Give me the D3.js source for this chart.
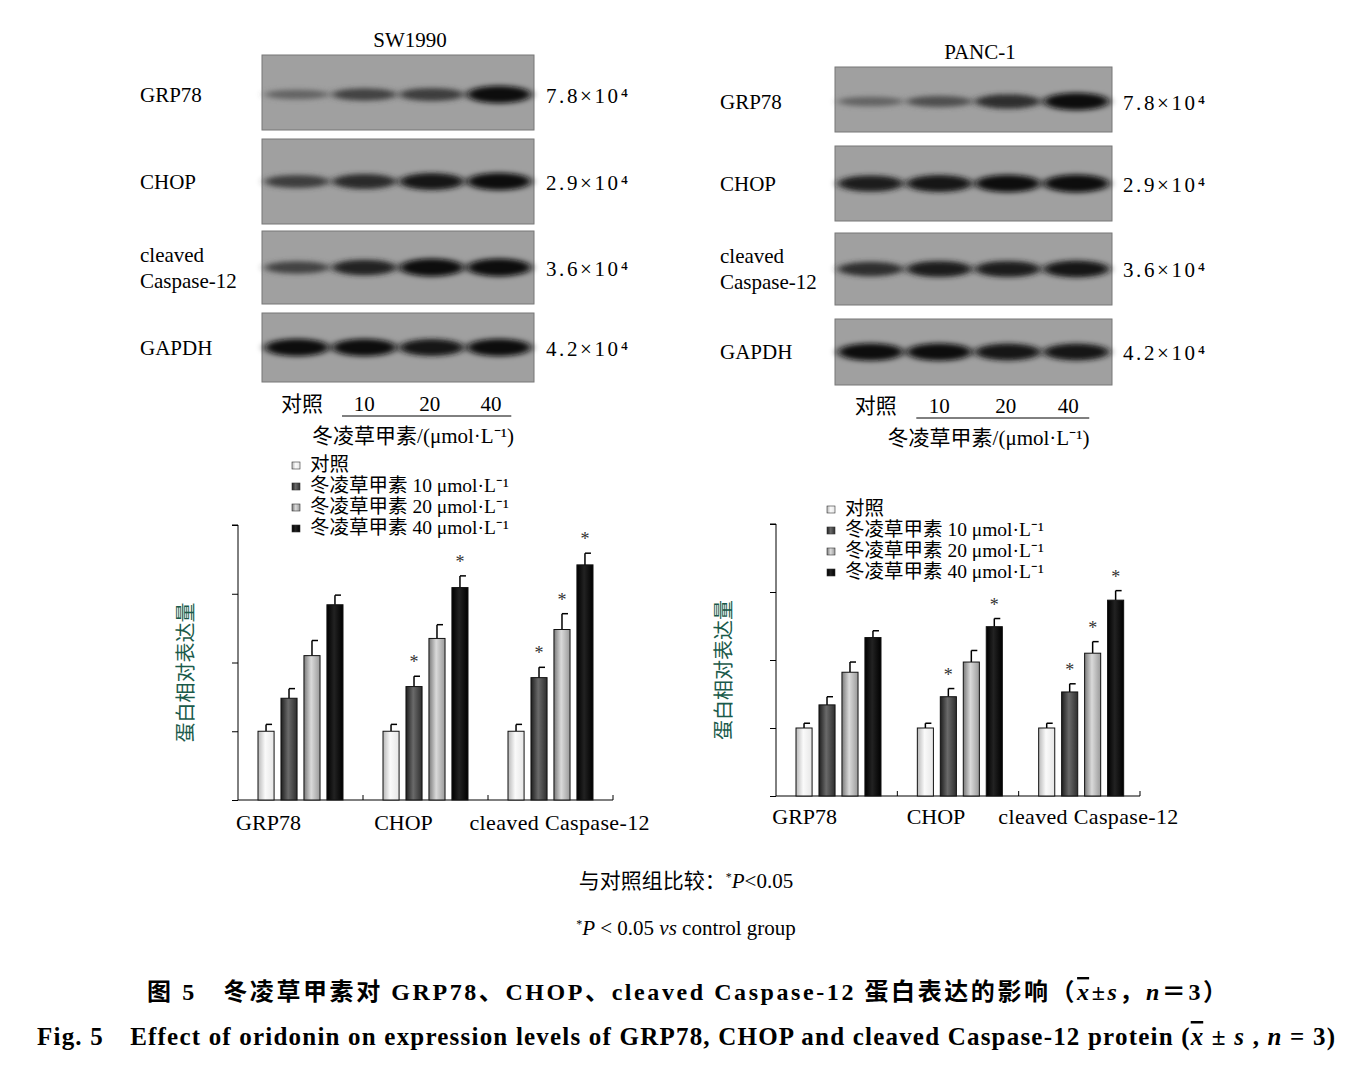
<!DOCTYPE html><html><head><meta charset="utf-8">
<script src="https://cdn.jsdelivr.net/npm/d3@7/dist/d3.min.js"></script>
<style>body{margin:0;background:#fff}svg{font-family:"Liberation Serif","Noto Sans CJK SC",serif}</style></head><body>
<svg id="c" width="1366" height="1078"></svg>
<script>
const proteins=["GRP78","CHOP","cleaved Caspase-12"];
const groups=["对照","冬凌草甲素 10 μmol·L⁻¹","冬凌草甲素 20 μmol·L⁻¹","冬凌草甲素 40 μmol·L⁻¹"];
const doseLabels=["对照","10","20","40"];
const blotRows=["GRP78","CHOP","cleaved\nCaspase-12","GAPDH"];
const mwLabels=["7.8×10⁴","2.9×10⁴","3.6×10⁴","4.2×10⁴"];
const bandSW=[[0.3,0.55,0.6,0.95],[0.6,0.75,0.9,0.95],[0.55,0.8,1,1],[0.95,0.95,0.9,0.95]];
const bandPA=[[0.3,0.45,0.7,0.95],[0.85,0.9,0.95,1],[0.7,0.85,0.85,0.9],[0.95,0.95,0.9,0.9]];
const swMean=[[1.0,1.48,2.1,2.84],[1.0,1.65,2.35,3.09],[1.0,1.78,2.48,3.42]];
const swErr=[[0.1,0.14,0.22,0.14],[0.1,0.15,0.2,0.17],[0.1,0.15,0.23,0.17]];
const swStar=[[0,0,0,0],[0,1,0,1],[0,1,1,1]];
const paMean=[[1.0,1.34,1.82,2.33],[1.0,1.46,1.97,2.49],[1.0,1.53,2.1,2.88]];
const paErr=[[0.07,0.12,0.15,0.1],[0.07,0.12,0.17,0.12],[0.07,0.12,0.17,0.14]];
const paStar=[[0,0,0,0],[0,1,0,1],[0,1,1,1]];

const svg=d3.select("#c");
const defs=svg.append("defs");
defs.append("filter").attr("id","blur").attr("x","-50%").attr("y","-100%").attr("width","200%").attr("height","300%")
 .append("feGaussianBlur").attr("stdDeviation","4 2.5");
const fills=[["#e6e6e6","#fafafa","#b8b8b8"],["#2e2e2e","#6a6a6a","#1e1e1e"],["#9a9a9a","#dadada","#7a7a7a"],["#000","#222","#000"]];
fills.forEach((f,i)=>{const g=defs.append("linearGradient").attr("id","g"+i);
 g.append("stop").attr("offset","0%").attr("stop-color",f[2]);
 g.append("stop").attr("offset","45%").attr("stop-color",f[1]);
 g.append("stop").attr("offset","100%").attr("stop-color",f[0]);});
const bandColor=d3.interpolateRgb("#8a8a8a","#080808");

function blot(title,titleX,x0,x1,rows,bands,labelX,mwX,doseY){
 svg.append("text").attr("x",titleX).attr("y",rows[0][0]-8).attr("text-anchor","middle").attr("font-size",21).text(title);
 const lx=d3.scaleBand().domain(d3.range(4)).range([x0,x1]).padding(0.04);
 rows.forEach((r,i)=>{
  svg.append("rect").attr("x",x0).attr("y",r[0]).attr("width",x1-x0).attr("height",r[1]-r[0]).attr("fill","#a0a0a0").attr("stroke","#777");
  const cy=(r[0]+r[1])/2+(i==0?2:0);
  bands[i].forEach((v,j)=>{
   svg.append("ellipse").attr("cx",lx(j)+lx.bandwidth()/2).attr("cy",cy).attr("rx",lx.bandwidth()/2).attr("ry",3+v*6)
    .attr("fill",bandColor(v)).attr("filter","url(#blur)");
  });
  const lab=blotRows[i].split("\n");
  lab.forEach((t,k)=>svg.append("text").attr("x",labelX).attr("y",cy+7+(lab.length>1?(k-0.5)*26:0)).attr("font-size",21).text(t));
  svg.append("text").attr("x",mwX).attr("y",cy+8).attr("font-size",21).attr("textLength",82).text(mwLabels[i]);
 });
 doseLabels.forEach((d,j)=>svg.append("text").attr("x",lx(j)+lx.bandwidth()/2+(j==0?5:j==1?0:j==2?-2:-8)).attr("y",doseY).attr("text-anchor","middle").attr("font-size",21).text(d));
 svg.append("line").attr("x1",lx(1)+10).attr("x2",lx(3)+lx.bandwidth()-20).attr("y1",doseY+5).attr("y2",doseY+5).attr("stroke","#000");
 svg.append("text").attr("x",(x0+x1)/2+15).attr("y",doseY+32).attr("text-anchor","middle").attr("font-size",21).text("冬凌草甲素/(μmol·L⁻¹)");
}
blot("SW1990",410,262,534,[[55,130],[139,224],[231,304],[313,382]],bandSW,140,546,411);
blot("PANC-1",980,835,1112,[[67,132],[146,221],[233,305],[319,385]],bandPA,720,1123,413);

const labOff=[-32,-22,9];
function bars(ax,top,bot,right,means,errs,stars,legX,legY,labY){
 const y=d3.scaleLinear().domain([0,4]).range([bot,top]);
 const x0=d3.scaleBand().domain(proteins).range([ax,right]);
 const x1=d3.scaleBand().domain(d3.range(4)).range([20,105]).paddingInner(0.3);
 const g=svg.append("g");
 g.append("g").attr("transform",`translate(${ax},0)`).call(d3.axisLeft(y).ticks(4).tickSize(6).tickFormat("")).call(s=>s.select(".domain").attr("d",`M-6,${top}H0V${bot}`));
 g.append("line").attr("x1",ax).attr("x2",right).attr("y1",bot).attr("y2",bot).attr("stroke","#000");
 [x0.step(),2*x0.step(),right-ax].forEach(o=>g.append("line").attr("x1",ax+o).attr("x2",ax+o).attr("y1",bot).attr("y2",bot-5).attr("stroke","#000"));
 proteins.forEach((p,i)=>{
  means[i].forEach((m,j)=>{
   const bx=x0(p)+x1(j),bw=x1.bandwidth(),cx=bx+bw/2;
   g.append("line").attr("x1",cx).attr("x2",cx).attr("y1",y(m)).attr("y2",y(m+errs[i][j])).attr("stroke","#000").attr("stroke-width",1.5);
   g.append("line").attr("x1",cx).attr("x2",cx+6).attr("y1",y(m+errs[i][j])).attr("y2",y(m+errs[i][j])).attr("stroke","#000").attr("stroke-width",1.5);
   g.append("rect").attr("x",bx).attr("y",y(m)).attr("width",bw).attr("height",bot-y(m)).attr("fill",`url(#g${j})`).attr("stroke","#111").attr("stroke-width",1);
   if(stars[i][j])g.append("text").attr("x",cx).attr("y",y(m+errs[i][j])-8).attr("text-anchor","middle").attr("font-size",18).attr("fill","#333").text("*");
  });
  g.append("text").attr("x",x0(p)+x0.bandwidth()/2+labOff[i]).attr("y",labY).attr("text-anchor","middle").attr("font-size",22).attr("textLength",i==2?180:null).text(p);
 });
 groups.forEach((t,j)=>{
  g.append("rect").attr("x",legX).attr("y",legY+j*21-9).attr("width",8).attr("height",7).attr("fill",`url(#g${j})`).attr("stroke","#333").attr("stroke-width",0.6);
  g.append("text").attr("x",legX+18).attr("y",legY+j*21).attr("font-size",19.5).text(t);
 });
 g.append("text").attr("transform",`translate(${ax-45},${(top+bot)/2+10}) rotate(-90)`).attr("text-anchor","middle").attr("font-size",20).attr("fill","#1a5a4a").text("蛋白相对表达量");
}
bars(238,525,800,613,swMean,swErr,swStar,292,471,830);
bars(776,524,796,1140,paMean,paErr,paStar,827,515,824);

svg.append("text").attr("x",686).attr("y",888).attr("text-anchor","middle").attr("font-size",21).html('与对照组比较：<tspan baseline-shift="super" font-size="12">*</tspan><tspan font-style="italic">P</tspan>&lt;0.05');
svg.append("text").attr("x",686).attr("y",935).attr("text-anchor","middle").attr("font-size",21).html('<tspan baseline-shift="super" font-size="12">*</tspan><tspan font-style="italic">P</tspan> &lt; 0.05 <tspan font-style="italic">vs</tspan> control group');
svg.append("text").attr("x",147).attr("y",1000).attr("font-size",24).attr("font-weight","bold").attr("textLength",1080).html('图 5　冬凌草甲素对 GRP78、CHOP、cleaved  Caspase-12 蛋白表达的影响（<tspan font-style="italic" text-decoration="overline">x</tspan>±<tspan font-style="italic">s</tspan>，<tspan font-style="italic">n</tspan>＝3）');
svg.append("text").attr("x",37).attr("y",1045).attr("font-size",25).attr("font-weight","bold").attr("textLength",1298).html('Fig. 5　Effect of oridonin on expression levels of GRP78, CHOP and cleaved Caspase-12 protein (<tspan font-style="italic" text-decoration="overline">x</tspan> ± <tspan font-style="italic">s</tspan> , <tspan font-style="italic">n</tspan> = 3)');
</script></body></html>
